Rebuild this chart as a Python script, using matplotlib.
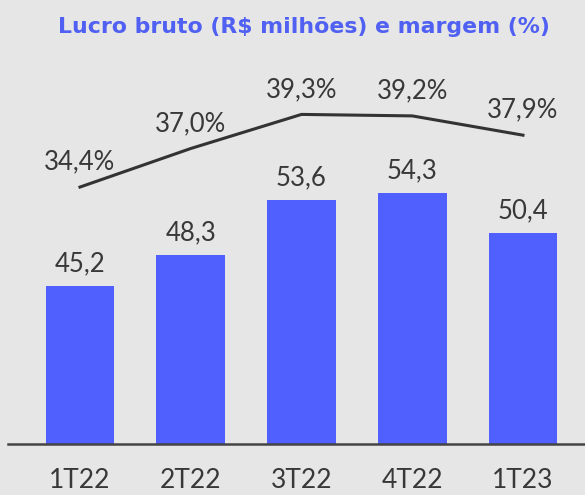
import matplotlib.pyplot as plt

# data
quarters = ["1T22", "2T22", "3T22", "4T22", "1T23"]
lucro = [45.2, 48.3, 53.6, 54.3, 50.4]
margem = [34.4, 37.0, 39.3, 39.2, 37.9]

bg = "#e6e6e6"
blue = "#4f60ff"
dark = "#383838"

plt.rcParams['font.family'] = ['Lato', 'DejaVu Sans']

fig = plt.figure(figsize=(5.85, 4.95), dpi=100, facecolor=bg)
ax = fig.add_axes([8 / 585, 51 / 495, 1 - 8 / 585, 384 / 495])
ax.set_facecolor(bg)

x = list(range(len(quarters)))
ax.bar(x, lucro, width=0.62, color=blue, zorder=2)
ax.set_xlim(-0.65, 4.56)
ax.set_ylim(29.8, 67.3)
for xi, v in zip(x, lucro):
    ax.annotate(f"{v:.1f}".replace(".", ","), (xi, v), xytext=(0, 22),
                textcoords="offset pixels", ha="center", va="center",
                fontsize=18.5, color=dark)

ax.set_xticks(x)
ax.set_xticklabels(quarters, fontsize=19, color=dark)
ax.tick_params(axis="x", length=0, pad=17)
ax.set_yticks([])
for s in ["top", "right", "left"]:
    ax.spines[s].set_visible(False)
ax.spines["bottom"].set_color("#444444")
ax.spines["bottom"].set_linewidth(1.8)

# margin line on its own scale
ax2 = ax.twinx()
ax2.plot(x, margem, color="#333333", lw=2.2, zorder=3)
ax2.set_ylim(17.07, 42.97)
ax2.set_yticks([])
for s in ax2.spines.values():
    s.set_visible(False)
for xi, v in zip(x, margem):
    ax2.annotate(f"{v:.1f}%".replace(".", ","), (xi, v), xytext=(0, 25),
                 textcoords="offset pixels", ha="center", va="center",
                 fontsize=18.5, color=dark)

fig.text(0.52, 0.945, "Lucro bruto (R$ milhões) e margem (%)", ha="center",
         va="center", fontsize=15.8, fontweight="bold", color="#5060f2",
         family="DejaVu Sans")

fig.savefig("out.png", dpi=100, facecolor=bg)
